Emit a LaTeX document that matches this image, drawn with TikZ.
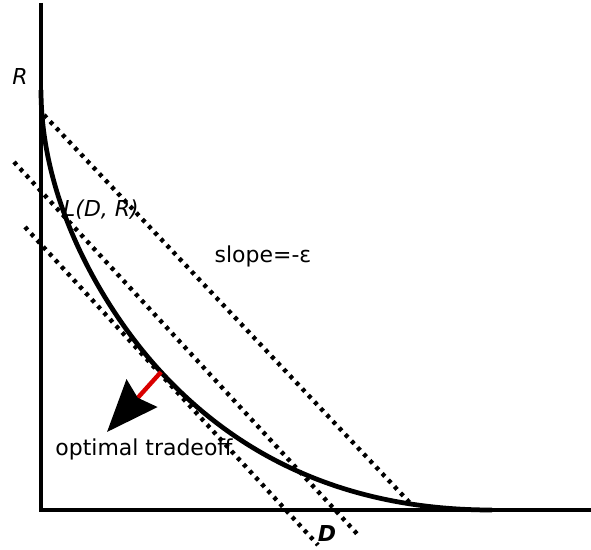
\documentclass[tikz,border=0pt]{standalone}
\usepackage{fontspec}
\setmainfont{DejaVu Sans}
\usetikzlibrary{arrows.meta}

\begin{document}
\begin{tikzpicture}[x=0.02cm, y=-0.02cm, every node/.style={font=\fontsize{12.5}{14}\selectfont},
	axis/.style = {line width=2.7pt},
	rdcurve/.style = {line width=2.7pt},
	level/.style = {line width=2.5pt, dash pattern=on 2.2pt off 2.9pt}]
	\useasboundingbox (0,0) rectangle (591,550);

	\coordinate (O) at (41,510);
	\coordinate (Rtop) at (41,3);
	\coordinate (Dend) at (591,510);

	\coordinate (A1) at (44,115);
	\coordinate (A2) at (410,503);
	\coordinate (B1) at (14,162);
	\coordinate (B2) at (360,537);
	\coordinate (C1) at (25,227);
	\coordinate (C2) at (318,545);

	\coordinate (S) at (41,90);
	\coordinate (T) at (161,372);
	\coordinate (E) at (492,510);
	\coordinate (G) at (107,432);

	% axes
	\draw[axis] (Rtop) -- (O) -- (Dend);

	% lines of equal cost
	\draw[level] (A1) -- (A2);
	\draw[level] (B1) -- (B2);
	\draw[level] (C1) -- (C2);

	% rate-distortion curve
	\draw[rdcurve] (S) .. controls (41,210) and (111,318) .. (T)
		.. controls (221,437) and (322,510) .. (E);

	\draw[red!85!black, line width=2.5pt, -{Stealth[black, length=1.04cm, width=0.82cm, inset=0.12cm]}] (T) -- (G);

	\node (R) at (20,76) {\itshape R};
	\node (L) at (101,210) {\itshape L(D, R)};
	\node (slope) at (263,256) {slope=-ε};
	\node (opt) at (144,449) {optimal tradeoff};
	\node (D) at (327,533) {\bfseries\itshape D};
\end{tikzpicture}
\end{document}
